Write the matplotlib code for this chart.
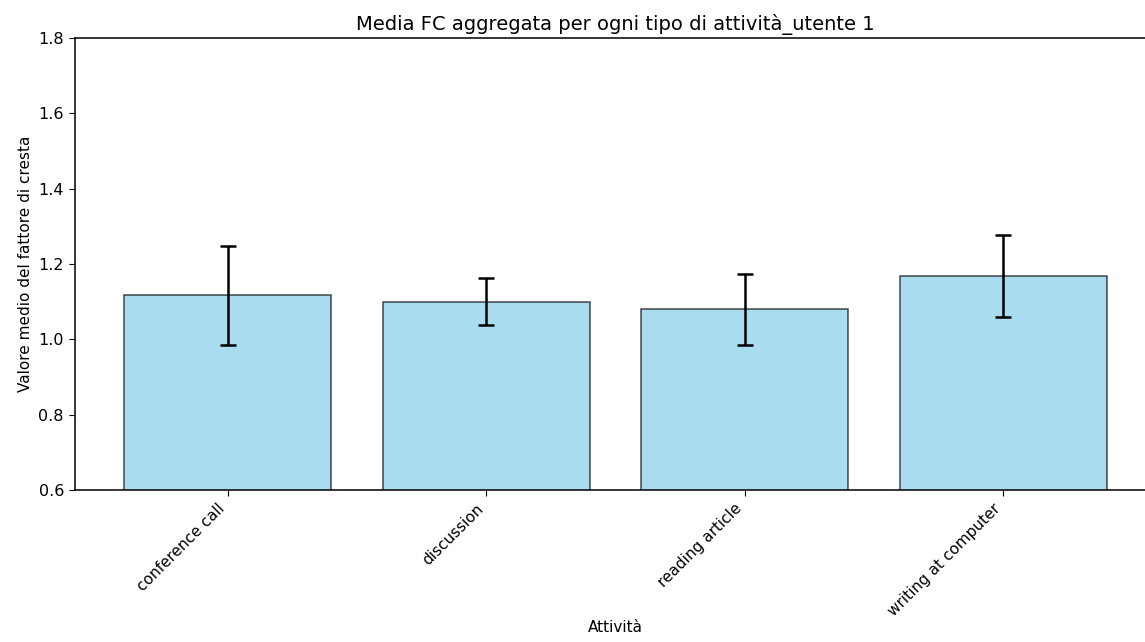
import numpy as np
import matplotlib.pyplot as plt

attivita = ["conference call", "discussion", "reading article", "writing at computer"]
media_fc = [1.117, 1.100, 1.080, 1.168]
dev_std = [0.131, 0.062, 0.094, 0.110]

plt.rcParams["axes.linewidth"] = 1.1
plt.rcParams["xtick.major.size"] = 4.5
plt.rcParams["ytick.major.size"] = 4.5

fig = plt.figure(figsize=(11.45, 6.42), dpi=100)
ax = fig.add_axes([0.0655, 0.2368, 0.944, 0.704])

x = np.arange(len(attivita))
ax.bar(x, media_fc, yerr=dev_std, capsize=6, color="skyblue", edgecolor="black",
       alpha=0.7, width=0.8, linewidth=1.1,
       error_kw=dict(elinewidth=1.8, capthick=1.8, ecolor="black"))

ax.set_xticks(x)
ax.set_xticklabels(attivita, rotation=45, ha="right", fontsize=11)
ax.tick_params(axis="y", labelsize=11.5)
ax.set_ylim(0.6, 1.8)
ax.set_xlim(-0.59, 3.59)
ax.set_title("Media FC aggregata per ogni tipo di attività_utente 1", fontsize=14)
ax.set_xlabel("Attività", fontsize=11, labelpad=1)
ax.set_ylabel("Valore medio del fattore di cresta", fontsize=11)

fig.savefig("out.png", dpi=100)
